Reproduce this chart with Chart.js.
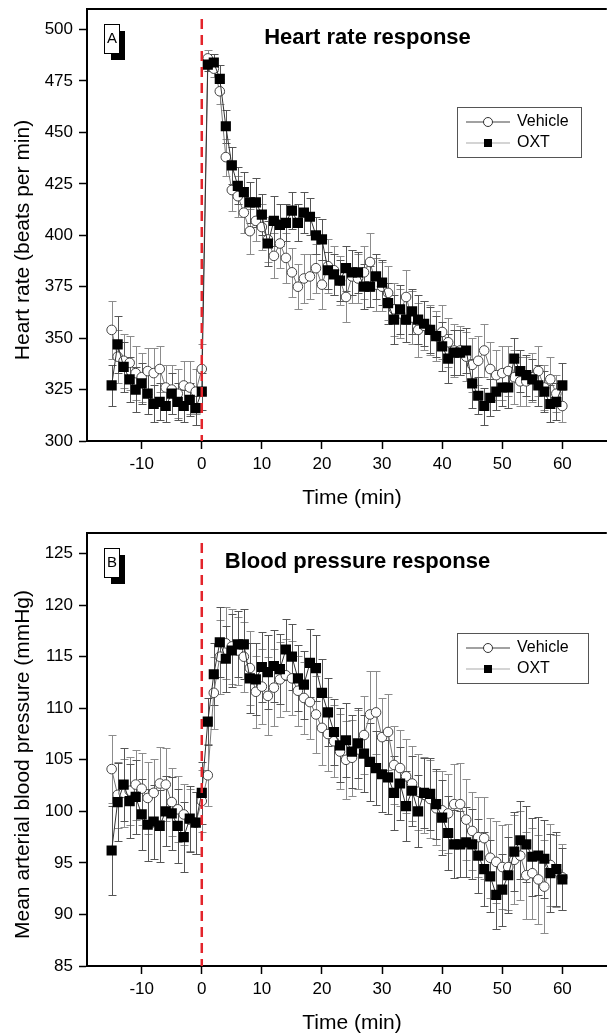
<!DOCTYPE html>
<html>
<head>
<meta charset="utf-8">
<script src="https://cdn.jsdelivr.net/npm/chart.js@4.4.0/dist/chart.umd.min.js"></script>
<style>
  html, body { margin: 0; padding: 0; background: #fff; overflow: hidden; width: 607px; height: 1034px; }
  /* a few px wider than the window so the open right side of the frame is cut off */
  .panel { position: absolute; left: 0; width: 614px; height: 517px; }
  #p1 { top: 0; }
  #p2 { top: 517px; }
</style>
</head>
<body>
<div class="panel" id="p1"><canvas id="hrChart"></canvas></div>
<div class="panel" id="p2"><canvas id="bpChart"></canvas></div>
<script>
// time points (min)
const times = [
  -15, -14, -13, -12, -11, -10, -9, -8, -7, -6, -5, -4, -3, -2, -1, 0,
  1, 2, 3, 4, 5, 6, 7, 8, 9, 10,
  11, 12, 13, 14, 15, 16, 17, 18, 19, 20,
  21, 22, 23, 24, 25, 26, 27, 28, 29, 30,
  31, 32, 33, 34, 35, 36, 37, 38, 39, 40,
  41, 42, 43, 44, 45, 46, 47, 48, 49, 50,
  51, 52, 53, 54, 55, 56, 57, 58, 59, 60
];

// Heart rate (beats per min)
const hrVehicle = [
  354, 341, 339, 338, 333, 331, 334, 333, 335, 326, 325, 323, 327, 326, 324, 335,
  486, 481, 470, 438, 422, 419, 411, 402, 407, 404,
  398, 390, 396, 389, 382, 375, 379, 380, 384, 376,
  385, 383, 378, 370, 380, 379, 382, 387, 376, 375,
  372, 364, 362, 370, 360, 354, 356, 354, 351, 353,
  348, 344, 344, 341, 337, 339, 344, 335, 332, 333,
  334, 331, 329, 329, 331, 334, 326, 330, 323, 317
];
const hrVehicleErr = [
  14, 13, 13, 13, 13, 12, 11, 12, 11, 11, 12, 12, 12, 13, 11, 12,
  4, 4, 6, 9, 10, 10, 10, 11, 10, 11,
  11, 11, 12, 12, 12, 11, 12, 11, 12, 12,
  13, 12, 12, 12, 13, 12, 13, 14, 13, 12,
  13, 13, 12, 13, 13, 13, 12, 12, 12, 13,
  12, 13, 12, 12, 13, 12, 13, 13, 12, 13,
  12, 13, 12, 12, 12, 12, 11, 11, 9, 8
];
const hrOxt = [
  327, 347, 336, 330, 325, 328, 323, 318, 319, 317, 323, 319, 317, 320, 316, 324,
  483, 484, 476, 453, 434, 424, 421, 416, 416, 410,
  396, 407, 405, 406, 412, 406, 411, 409, 400, 398,
  383, 381, 378, 384, 382, 382, 375, 375, 380, 377,
  367, 359, 364, 359, 363, 359, 357, 354, 351, 346,
  340, 343, 343, 344, 328, 322, 317, 321, 324, 326,
  326, 340, 334, 332, 330, 327, 324, 318, 319, 327
];
const hrOxtErr = [
  10, 14, 12, 11, 11, 10, 10, 9, 9, 8, 10, 9, 8, 8, 8, 9,
  3, 4, 7, 8, 9, 9, 10, 10, 12, 10,
  11, 12, 10, 9, 9, 9, 10, 9, 9, 10,
  9, 10, 10, 11, 11, 10, 11, 10, 11, 11,
  10, 12, 12, 11, 11, 12, 11, 11, 10, 12,
  12, 11, 11, 11, 12, 9, 9, 9, 9, 9,
  10, 10, 10, 10, 10, 10, 10, 9, 9, 11
];

// Mean arterial blood pressure (mmHg)
const bpVehicle = [
  104.1, 101.6, 101.8, 102.0, 102.6, 102.2, 101.3, 101.8, 102.7, 102.6, 100.9, 100.2, 99.7, 99.2, 98.9, 101.0,
  103.5, 111.5, 115.0, 116.3, 116.0, 115.6, 115.0, 113.9, 111.6, 112.1,
  111.2, 112.0, 112.8, 113.2, 112.9, 111.7, 111.0, 110.6, 109.4, 108.1,
  107.5, 106.8, 105.8, 105.0, 105.2, 106.0, 107.4, 109.4, 109.6, 107.2,
  107.7, 104.5, 104.2, 103.4, 102.7, 101.9, 101.6, 101.2, 100.3, 100.1,
  99.8, 100.7, 100.7, 99.2, 98.1, 97.5, 97.4, 95.5, 95.1, 94.6,
  94.6, 95.3, 95.7, 93.8, 94.0, 93.4, 92.7, 94.8, 94.2, 93.6
];
const bpVehicleErr = [
  3.3, 3.2, 3.3, 3.3, 3.4, 3.5, 3.5, 3.3, 3.5, 3.5, 3.3, 3.2, 3.0, 3.0, 3.0, 3.0,
  3.0, 3.5, 3.6, 3.5, 3.6, 3.3, 3.4, 3.6, 3.5, 3.6,
  3.8, 3.7, 3.6, 3.5, 3.6, 3.4, 3.5, 3.6, 3.7, 3.6,
  3.6, 3.5, 3.6, 3.8, 3.7, 3.8, 3.8, 4.2, 4.0, 3.8,
  3.7, 3.8, 3.7, 3.6, 3.6, 3.7, 3.7, 3.8, 3.6, 3.8,
  3.8, 3.9, 4.0, 3.9, 3.8, 3.9, 4.0, 3.9, 4.0, 4.1,
  4.2, 4.3, 4.3, 4.2, 4.4, 4.3, 4.5, 4.0, 3.5, 3.2
];
const bpOxt = [
  96.2, 100.9, 102.6, 101.0, 101.4, 99.7, 98.7, 99.0, 98.6, 100.0, 99.8, 98.6, 97.5, 99.3, 98.9, 101.8,
  108.7, 113.3, 116.4, 114.8, 115.6, 116.2, 116.2, 112.9, 112.8, 114.0,
  113.5, 114.1, 113.8, 115.7, 115.0, 112.9, 112.3, 114.4, 113.9, 111.5,
  109.6, 107.7, 106.4, 106.9, 105.8, 106.6, 105.6, 104.8, 104.2, 103.6,
  103.3, 101.8, 102.7, 100.5, 102.0, 100.0, 101.8, 101.7, 100.7, 99.4,
  97.9, 96.8, 96.8, 97.0, 96.8, 95.7, 94.4, 93.7, 91.9, 92.4,
  93.8, 96.1, 97.2, 96.8, 95.6, 95.7, 95.4, 94.0, 94.4, 93.4
];
const bpOxtErr = [
  4.3, 3.8, 3.5, 3.6, 3.6, 3.4, 3.5, 3.6, 3.5, 3.4, 3.5, 3.6, 3.4, 3.2, 3.0, 3.0,
  2.3, 3.0, 3.4, 3.2, 3.5, 3.2, 3.4, 3.4, 3.5, 3.4,
  3.6, 3.5, 3.4, 3.0, 3.2, 3.2, 3.3, 3.3, 3.2, 3.3,
  3.3, 3.2, 3.6, 3.6, 3.5, 3.4, 3.7, 3.8, 3.6, 3.7,
  3.6, 3.6, 3.5, 3.4, 3.4, 3.5, 3.4, 3.5, 3.4, 3.6,
  3.6, 3.3, 3.2, 3.4, 3.4, 3.6, 3.6, 3.5, 3.3, 3.5,
  3.7, 3.8, 3.8, 3.7, 3.8, 3.8, 3.8, 3.8, 3.6, 3.0
];

const FONT = 'Arial, "Liberation Sans", sans-serif';
Chart.defaults.font.family = FONT;
Chart.defaults.color = '#000';

// vertical SEM bars with caps, drawn under the markers
const errorBars = {
  id: 'errorBars',
  beforeDatasetsDraw(chart) {
    const { ctx, chartArea: a, scales: { y } } = chart;
    ctx.save();
    ctx.beginPath();
    ctx.rect(a.left, a.top, a.right - a.left, a.bottom - a.top);
    ctx.clip();
    chart.data.datasets.forEach((ds, di) => {
      const meta = chart.getDatasetMeta(di);
      ctx.strokeStyle = ds.errorColor;
      ctx.lineWidth = 1;
      meta.data.forEach((pt, i) => {
        const v = ds.data[i].y, e = ds.errors[i];
        const hi = Math.round(y.getPixelForValue(v + e)) + 0.5;
        const lo = Math.round(y.getPixelForValue(v - e)) + 0.5;
        const x = Math.round(pt.x) + 0.5;
        ctx.beginPath();
        ctx.moveTo(x, hi); ctx.lineTo(x, lo);
        ctx.moveTo(x - 4, hi); ctx.lineTo(x + 4, hi);
        ctx.moveTo(x - 4, lo); ctx.lineTo(x + 4, lo);
        ctx.stroke();
      });
    });
    ctx.restore();
  }
};

// frame top, injection line, titles, panel letter, legend
const decor = {
  id: 'decor',
  afterDatasetsDraw(chart, args, o) {
    const { ctx, chartArea: a, scales: { x } } = chart;
    ctx.save();

    ctx.strokeStyle = '#000';
    ctx.lineWidth = 2;
    ctx.beginPath();
    ctx.moveTo(a.left, a.top); ctx.lineTo(a.right, a.top);
    ctx.stroke();

    const x0 = x.getPixelForValue(0);
    ctx.strokeStyle = '#e3242b';
    ctx.lineWidth = 2.5;
    ctx.setLineDash([10, 6]);
    ctx.beginPath();
    ctx.moveTo(x0, a.top + 10); ctx.lineTo(x0, a.bottom);
    ctx.stroke();
    ctx.setLineDash([]);

    ctx.fillStyle = '#000';
    ctx.font = 'bold 22px ' + FONT;
    ctx.textAlign = 'center';
    ctx.textBaseline = 'middle';
    ctx.fillText(o.title, o.titleX, a.top + 29);

    // panel letter with drop shadow
    const bx = a.left + 17, by = a.top + 15;
    ctx.fillStyle = '#000';
    ctx.fillRect(bx + 7, by + 7, 14, 29);
    ctx.fillStyle = '#fff';
    ctx.fillRect(bx, by, 15, 29);
    ctx.strokeStyle = '#000';
    ctx.lineWidth = 1;
    ctx.strokeRect(bx + 0.5, by + 0.5, 15, 29);
    ctx.fillStyle = '#000';
    ctx.font = '15px ' + FONT;
    ctx.fillText(o.letter, bx + 8, by + 15);

    // legend
    const lx = 457, ly = a.top + o.legendDy, lw = o.legendW, lh = 50;
    ctx.fillStyle = '#fff';
    ctx.fillRect(lx, ly, lw, lh);
    ctx.strokeStyle = '#555';
    ctx.lineWidth = 1;
    ctx.strokeRect(lx + 0.5, ly + 0.5, lw, lh);
    chart.data.datasets.forEach((ds, i) => {
      const yy = ly + 15 + i * 21;
      ctx.strokeStyle = ds.legendLine;
      ctx.lineWidth = 1.2;
      ctx.beginPath();
      ctx.moveTo(lx + 9, yy); ctx.lineTo(lx + 53, yy);
      ctx.stroke();
      if (ds.pointStyle === 'rect') {
        ctx.fillStyle = '#000';
        ctx.fillRect(lx + 27, yy - 4, 8, 8);
      } else {
        ctx.fillStyle = '#fff';
        ctx.strokeStyle = '#333';
        ctx.lineWidth = 1;
        ctx.beginPath();
        ctx.arc(lx + 31, yy, 4.5, 0, Math.PI * 2);
        ctx.fill(); ctx.stroke();
      }
      ctx.fillStyle = '#000';
      ctx.font = '16px ' + FONT;
      ctx.textAlign = 'left';
      ctx.fillText(ds.label, lx + 60, yy);
    });

    // axis titles
    ctx.font = '21px ' + FONT;
    ctx.textAlign = 'center';
    ctx.fillText('Time (min)', x.getPixelForValue(25), a.bottom + 57);
    ctx.translate(23, (a.top + a.bottom) / 2 + 15);
    ctx.rotate(-Math.PI / 2);
    ctx.fillText(o.yTitle, 0, 0);

    ctx.restore();
  }
};

function pts(vals) {
  return times.map((t, i) => ({ x: t, y: vals[i] }));
}

function makeChart(id, vehicle, vehicleErr, oxt, oxtErr, yMin, yMax, yStep, deco, padTop, xHeight) {
  return new Chart(document.getElementById(id), {
    type: 'line',
    data: {
      datasets: [
        {
          label: 'Vehicle',
          data: pts(vehicle),
          errors: vehicleErr,
          errorColor: '#8c8c8c',
          legendLine: '#444',
          borderColor: '#777',
          borderWidth: 1,
          pointStyle: 'circle',
          pointRadius: 4.8,
          pointBackgroundColor: '#fff',
          pointBorderColor: '#444',
          pointBorderWidth: 1,
          tension: 0,
          order: 1
        },
        {
          label: 'OXT',
          data: pts(oxt),
          errors: oxtErr,
          errorColor: '#555',
          legendLine: '#aaa',
          borderColor: '#333',
          borderWidth: 1,
          pointStyle: 'rect',
          pointRadius: 7.2,
          pointBackgroundColor: '#000',
          pointBorderColor: '#000',
          pointBorderWidth: 0,
          tension: 0,
          order: 0
        }
      ]
    },
    options: {
      responsive: true,
      maintainAspectRatio: false,
      animation: false,
      layout: { padding: { top: padTop, left: 0, right: 0, bottom: 0 } },
      plugins: {
        legend: { display: false },
        tooltip: { enabled: false },
        decor: deco
      },
      scales: {
        x: {
          type: 'linear',
          min: -19.1,
          max: 67.4,
          afterFit: (s) => { s.height = xHeight; },
          ticks: { stepSize: 10, includeBounds: false, padding: 5, font: { size: 17 }, color: '#000' },
          grid: { drawOnChartArea: false, tickLength: 8, tickColor: '#000', tickWidth: 1.5 },
          border: { color: '#000', width: 2 }
        },
        y: {
          min: yMin,
          max: yMax,
          afterFit: (s) => { s.width = 87; s.paddingTop = 0; s.paddingBottom = 0; },
          ticks: { stepSize: yStep, includeBounds: false, padding: 6, font: { size: 17 }, color: '#000' },
          grid: { drawOnChartArea: false, tickLength: 8, tickColor: '#000', tickWidth: 1.5 },
          border: { color: '#000', width: 2 }
        }
      }
    },
    plugins: [errorBars, decor]
  });
}

makeChart('hrChart', hrVehicle, hrVehicleErr, hrOxt, hrOxtErr, 300, 510, 25,
  { title: 'Heart rate response', titleX: 367.5, letter: 'A', legendDy: 98, legendW: 124,
    yTitle: 'Heart rate (beats per min)' }, 9, 76);

makeChart('bpChart', bpVehicle, bpVehicleErr, bpOxt, bpOxtErr, 85, 127, 5,
  { title: 'Blood pressure response', titleX: 357.5, letter: 'B', legendDy: 100, legendW: 131,
    yTitle: 'Mean arterial blood pressure (mmHg)' }, 16, 68);
</script>
</body>
</html>
